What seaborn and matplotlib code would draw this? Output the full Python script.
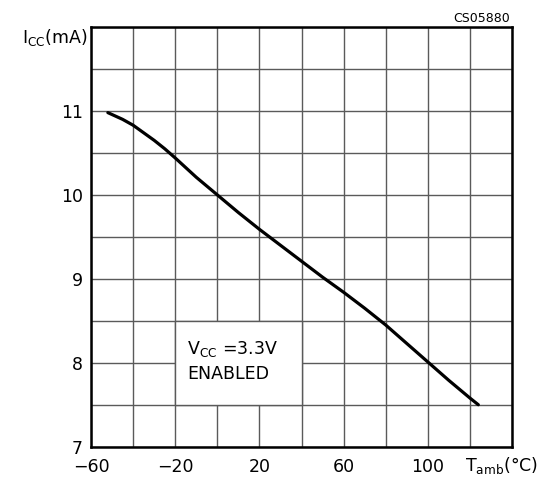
import matplotlib
matplotlib.use("Agg")
import matplotlib.pyplot as plt
from matplotlib.patches import Rectangle
import seaborn as sns

# supply current vs ambient temperature
temp_c = [-52, -45, -40, -35, -30, -25, -20, -10, 0, 10, 20, 30, 40, 50,
          60, 70, 80, 90, 100, 110, 120, 124]
icc_ma = [10.98, 10.90, 10.83, 10.74, 10.65, 10.55, 10.44, 10.21, 10.00, 9.79,
          9.59, 9.40, 9.21, 9.02, 8.84, 8.65, 8.45, 8.23, 8.01, 7.79, 7.58, 7.50]

x_ticks = list(range(-60, 141, 20))
x_labels = ["-60", "", "-20", "", "20", "", "60", "", "100", "", ""]
y_ticks = [7, 7.5, 8, 8.5, 9, 9.5, 10, 10.5, 11, 11.5, 12]
y_labels = ["7", "", "8", "", "9", "", "10", "", "11", "", ""]

sns.set_style("white")
plt.rcParams["font.family"] = ["DejaVu Sans"]
plt.rcParams["mathtext.fontset"] = "dejavusans"
plt.rcParams["text.color"] = "black"

grid_col = "#5a5a5a"
grid_lw = 1.0

fig = plt.figure(figsize=(5.54, 4.79), dpi=100)
ax = fig.add_axes([0.1643, 0.0674, 0.7599, 0.8762])

sns.lineplot(x=temp_c, y=icc_ma, color="black", linewidth=2.3, ax=ax, zorder=3)

ax.set_xlim(-60, 140)
ax.set_ylim(7, 12)
ax.set_xticks(x_ticks)
ax.set_xticklabels([l.replace("-", "\u2212") for l in x_labels])
ax.set_yticks(y_ticks)
ax.set_yticklabels(y_labels)
ax.tick_params(axis="both", length=0, labelsize=12.5, colors="black")
ax.tick_params(axis="x", pad=8)
ax.tick_params(axis="y", pad=6)
ax.grid(True, color=grid_col, linewidth=grid_lw)
ax.set_axisbelow(True)
ax.set_xlabel("")
ax.set_ylabel("")

for side in ["left", "right", "top", "bottom"]:
    ax.spines[side].set_visible(True)
    ax.spines[side].set_color("black")
    ax.spines[side].set_linewidth(1.8)

# blank panel behind the condition text
ax.add_patch(Rectangle((-20, 7.5), 60, 1, facecolor="white", edgecolor=grid_col,
                       linewidth=grid_lw, zorder=1))
ax.text(-14.2, 8.11, r"$\mathregular{V_{CC}}$ =3.3V", fontsize=12.5,
        va="baseline", ha="left", zorder=4, color="black")
ax.text(-14.2, 7.81, "ENABLED", fontsize=12.5, va="baseline", ha="left",
        zorder=4, color="black")

fig.text(88 / 554, 1 - 37 / 479, r"$\mathregular{I_{CC}}$(mA)", fontsize=12.5,
         ha="right", va="center", color="black")
fig.text(465 / 554, 1 - 471 / 479, r"$\mathregular{T_{amb}}$(°C)", fontsize=12.5,
         ha="left", va="baseline", color="black")
fig.text(510 / 554, 1 - 22 / 479, "CS05880", fontsize=9, ha="right",
         va="baseline", color="black")

fig.savefig("out.png", dpi=100)
